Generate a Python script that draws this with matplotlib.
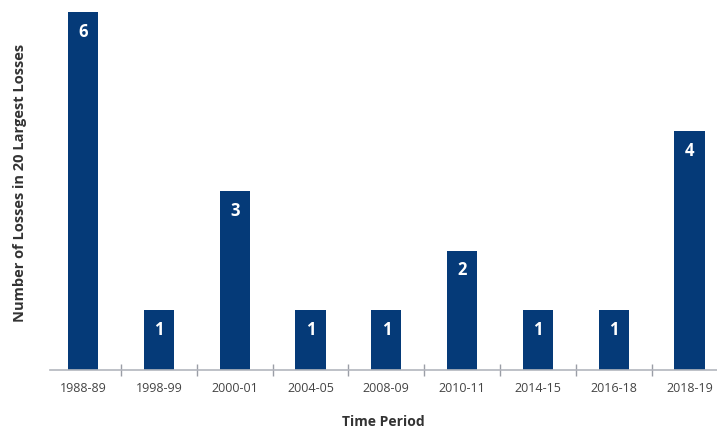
import matplotlib
matplotlib.use("Agg")
import matplotlib.pyplot as plt
import numpy as np

categories = ["1988-89", "1998-99", "2000-01", "2004-05", "2008-09",
              "2010-11", "2014-15", "2016-18", "2018-19"]
values = [6, 1, 3, 1, 1, 2, 1, 1, 4]

plt.rcParams['font.family'] = ['Open Sans', 'DejaVu Sans']

fig = plt.figure(figsize=(7.17, 4.28), dpi=100)
ax = fig.add_axes([50/717, 58/428, 1 - 50/717, 1 - 58/428])

x = np.arange(len(categories))
bars = ax.bar(x, values, width=0.4, color="#053a78", zorder=2)

for xi, v in zip(x, values):
    ax.text(xi, v - 0.33, str(v), ha="center", va="center", color="white",
            fontsize=12, fontweight="bold", zorder=3)

ax.set_ylim(0, 6.2)
ax.set_xlim(0.5 - 71/75.8, 0.5 + (717 - 121)/75.8)

for s in ["top", "right", "left"]:
    ax.spines[s].set_visible(False)
ax.spines["bottom"].set_color("#b3b6bd")
ax.spines["bottom"].set_linewidth(1.2)
ax.set_yticks([])

ax.set_xticks(x)
ax.set_xticklabels(categories, fontsize=9, color="#444444")
ax.tick_params(axis="x", which="major", length=0, pad=9)
ax.set_xticks(x[:-1] + 0.5, minor=True)
ax.tick_params(axis="x", which="minor", length=8, direction="inout",
               color="#9a9ea6", width=1)

ax.set_xlabel("Time Period", fontsize=10, fontweight="bold", color="#333333",
              labelpad=14)
fig.text(20/717, 0.5 + (428/2 - 183)/428, "Number of Losses in 20 Largest Losses",
         rotation=90, ha="center", va="center", fontsize=10.5,
         fontweight="bold", color="#333333")

fig.savefig("out.png", dpi=100)
